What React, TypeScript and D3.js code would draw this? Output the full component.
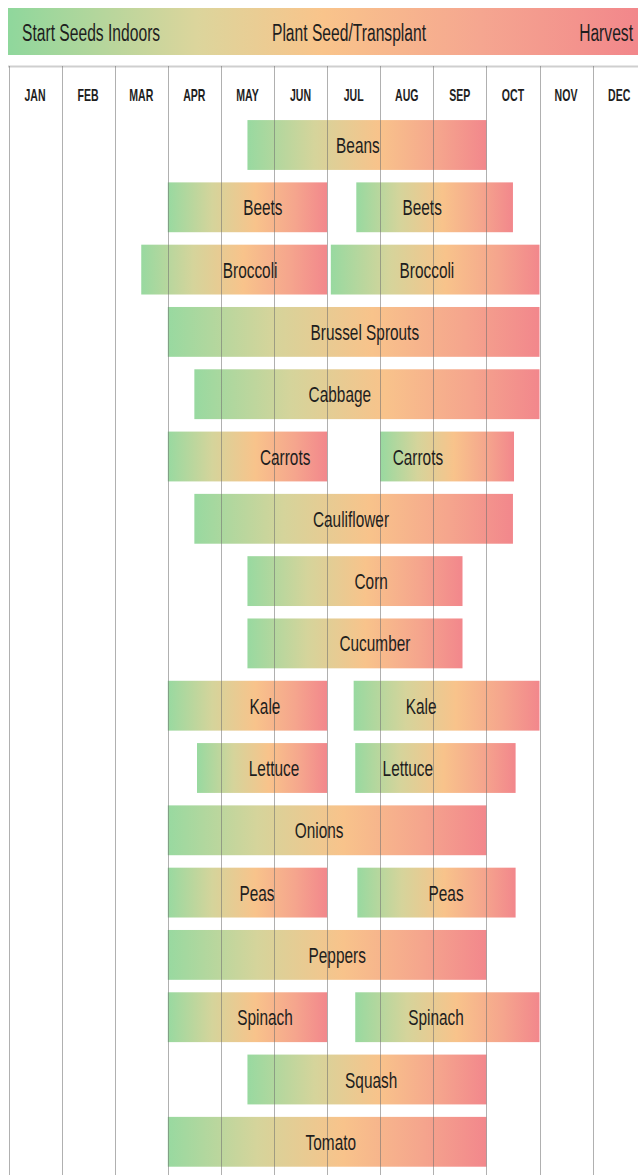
import React, { useEffect, useRef } from "react";
import * as d3 from "d3";

// month labels across the top
const months = ["JAN", "FEB", "MAR", "APR", "MAY", "JUN", "JUL", "AUG", "SEP", "OCT", "NOV", "DEC"];

// crops, top to bottom
const crops = [
  "Beans", "Beets", "Broccoli", "Brussel Sprouts", "Cabbage", "Carrots", "Cauliflower",
  "Corn", "Cucumber", "Kale", "Lettuce", "Onions", "Peas", "Peppers", "Spinach", "Squash", "Tomato",
];

// first planting window, in months from Jan 1 (0 = start of Jan, 12 = end of Dec)
const firstStart = [4.5, 3.0, 2.5, 3.0, 3.5, 3.0, 3.5, 4.5, 4.5, 3.0, 3.55, 3.0, 3.0, 3.0, 3.0, 4.5, 3.0];
const firstEnd = [9.0, 6.0, 6.0, 10.0, 10.0, 6.0, 9.5, 8.55, 8.55, 6.0, 6.0, 9.0, 6.0, 9.0, 6.0, 9.0, 9.0];
const firstLabelAt = [6.58, 4.79, 4.55, 6.71, 6.24, 5.21, 6.45, 6.83, 6.9, 4.83, 5.0, 5.85, 4.68, 6.19, 4.83, 6.83, 6.07];

// second (fall) window, null when the crop has only one
const secondStart = [null, 6.55, 6.07, null, null, 7.0, null, null, null, 6.5, 6.53, null, 6.57, null, 6.53, null, null];
const secondEnd = [null, 9.5, 10.0, null, null, 9.52, null, null, null, 10.0, 9.55, null, 9.55, null, 10.0, null, null];
const secondLabelAt = [null, 7.79, 7.88, null, null, 7.71, null, null, null, 7.77, 7.52, null, 8.24, null, 8.05, null, null];

const legendLabels = ["Start Seeds Indoors", "Plant Seed/Transplant", "Harvest"];

const W = 638;
const H = 1175;
const FONT = "'Liberation Sans', Arial, sans-serif";

const App: React.FC = () => {
  const svgRef = useRef<SVGSVGElement | null>(null);

  useEffect(() => {
    document.body.style.margin = "0";
    const svg = d3.select(svgRef.current).attr("width", W).attr("height", H);
    svg.selectAll("*").remove();

    const x = d3.scaleLinear().domain([0, 12]).range([8.5, 8.5 + 12 * 53.1]);
    const y = d3
      .scaleBand()
      .domain(crops)
      .range([113.85, 1172.95])
      .paddingInner(0.2)
      .paddingOuter(0.1);

    // condensed look: squeeze horizontally around the anchor point
    const narrowText = (
      g: d3.Selection<SVGGElement, unknown, null, undefined>,
      tx: number,
      ty: number,
      str: string,
      size: number,
      sx: number,
      anchor = "middle",
      weight = "normal"
    ) =>
      g
        .append("text")
        .attr("transform", `translate(${tx},${ty}) scale(${sx},1)`)
        .attr("text-anchor", anchor)
        .style("font-family", FONT)
        .style("font-size", `${size}px`)
        .style("font-weight", weight)
        .attr("fill", "#1e1e1e")
        .text(str);

    const defs = svg.append("defs");
    const grad = defs.append("linearGradient").attr("id", "barGrad");
    [
      [0, "#98d9a0"],
      [0.28, "#d5d49b"],
      [0.55, "#f8c38b"],
      [0.8, "#f5a58d"],
      [1, "#f2878c"],
    ].forEach(([o, c]) => grad.append("stop").attr("offset", o as number).attr("stop-color", c as string));

    const hgrad = defs.append("linearGradient").attr("id", "headGrad");
    [
      [0, "#8fd79c"],
      [0.3, "#dcd59c"],
      [0.5, "#f9c48b"],
      [0.75, "#f5a690"],
      [1, "#f2878b"],
    ].forEach(([o, c]) => hgrad.append("stop").attr("offset", o as number).attr("stop-color", c as string));

    // legend band
    svg
      .append("rect")
      .attr("x", 8)
      .attr("y", 8)
      .attr("width", W - 8)
      .attr("height", 47)
      .attr("fill", "url(#headGrad)");

    const legend = svg.append("g");
    narrowText(legend, 22, 40.5, legendLabels[0], 23, 0.68, "start");
    narrowText(legend, 349, 40.5, legendLabels[1], 23, 0.68, "middle");
    narrowText(legend, 633, 40.5, legendLabels[2], 23, 0.68, "end");

    // top border of the month grid
    svg
      .append("line")
      .attr("x1", 8)
      .attr("x2", W)
      .attr("y1", 66.5)
      .attr("y2", 66.5)
      .attr("stroke", "#cfcfcf")
      .attr("stroke-width", 2);

    // month labels
    const monthG = svg.append("g");
    months.forEach((m, i) => narrowText(monthG, x(i + 0.5), 100.5, m, 16, 0.66, "middle", "bold"));

    // bars
    type Seg = { crop: string; s: number; e: number; lab: number };
    const segs: Seg[] = [];
    crops.forEach((c, i) => {
      segs.push({ crop: c, s: firstStart[i], e: firstEnd[i], lab: firstLabelAt[i] });
      if (secondStart[i] != null) {
        segs.push({ crop: c, s: secondStart[i] as number, e: secondEnd[i] as number, lab: secondLabelAt[i] as number });
      }
    });

    svg
      .append("g")
      .selectAll("rect")
      .data(segs)
      .join("rect")
      .attr("x", (d) => x(d.s))
      .attr("y", (d) => y(d.crop)!)
      .attr("width", (d) => x(d.e) - x(d.s))
      .attr("height", y.bandwidth())
      .attr("fill", "url(#barGrad)");

    // grid lines drawn over the bars
    svg
      .append("g")
      .selectAll("line")
      .data(d3.range(0, 12))
      .join("line")
      .attr("x1", (d) => Math.round(x(d)) + 0.5)
      .attr("x2", (d) => Math.round(x(d)) + 0.5)
      .attr("y1", 66)
      .attr("y2", H)
      .attr("stroke", "#6f6f6f")
      .attr("stroke-opacity", 0.55)
      .attr("stroke-width", 1);

    // bar labels
    const labelG = svg.append("g");
    segs.forEach((d) =>
      narrowText(labelG, x(d.lab), y(d.crop)! + y.bandwidth() / 2 + 8, d.crop, 22, 0.7)
    );
  }, []);

  return <svg ref={svgRef} style={{ display: "block" }}></svg>;
};

export default App;
